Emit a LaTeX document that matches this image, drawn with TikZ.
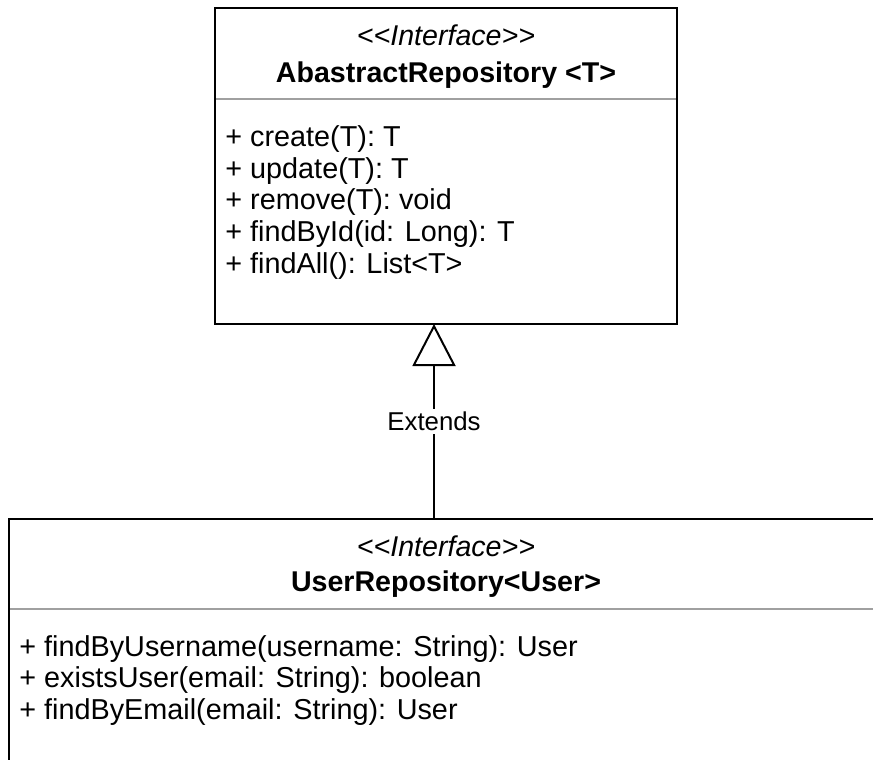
\documentclass[tikz,border=0pt]{standalone}
\usepackage{fontspec}
\setmainfont{Liberation Sans}
\usetikzlibrary{arrows.meta,calc}
\definecolor{dividergray}{RGB}{160,160,160}

\begin{document}
\begin{tikzpicture}[x=0.5pt,y=-0.5pt,
  umlbox/.style={draw=black,line width=1pt,fill=white,anchor=north west,inner sep=0pt,outer sep=0pt},
  divider/.style={draw=dividergray,line width=0.9pt,shorten <=0.5pt,shorten >=0.5pt},
  stereo/.style={font=\fontsize{14.3}{17}\selectfont\itshape,anchor=base,inner sep=0pt},
  classname/.style={font=\fontsize{14.3}{17}\selectfont\bfseries,anchor=base,inner sep=0pt},
  member/.style={font=\fontsize{14.4}{17}\selectfont,anchor=base west,inner sep=0pt},
  extends/.style={line width=1pt,-{Triangle[open,length=21pt,width=21.5pt]}},
  edgelabel/.style={font=\fontsize{12.9}{15}\selectfont,fill=white,inner sep=1.5pt}]
\fill[white] (0,0) rectangle (873,760);
\useasboundingbox (0,0) rectangle (873,760);

% interface boxes
\node[umlbox,minimum width=231pt,minimum height=158pt] (abstract) at (215,8) {};
\node[umlbox,minimum width=437pt,minimum height=140pt] (user) at (9,519) {};

\draw[divider] ($(abstract.north west)+(0,91)$) -- ($(abstract.north east)+(0,91)$);
\draw[divider] ($(user.north west)+(0,90)$) -- ($(user.north east)+(0,90)$);

% AbastractRepository
\node[stereo] (absStereo) at ($(abstract.north)+(0,38)$) {<\kern0pt<Interface>\kern0pt>};
\node[classname] (absName) at ($(abstract.north)+(0,74)$) {AbastractRepository <T>};
\foreach \op [count=\i] in {{+ create(T): T},{+ update(T): T},{+ remove(T): void},
    {+ findById(id: Long): T},{+ findAll(): List<T>}}
  \node[member] (absOp\i) at ($(abstract.north west)+(10,{106.8+31.7*\i})$) {\op};

% UserRepository
\node[stereo] (userStereo) at ($(user.north)+(0,37)$) {<\kern0pt<Interface>\kern0pt>};
\node[classname] (userName) at ($(user.north)+(0,72)$) {UserRepository<User>};
\foreach \op [count=\i] in {{+ findByUsername(username: String): User},
    {+ existsUser(email: String): boolean},{+ findByEmail(email: String): User}}
  \node[member] (userOp\i) at ($(user.north west)+(10,{105.3+31.7*\i})$) {\op};

% generalization
\coordinate (extX) at (434,0);
\draw[extends] (user.north -| extX) -- node[edgelabel] (extLabel) {Extends} (abstract.south -| extX);
\end{tikzpicture}
\end{document}
